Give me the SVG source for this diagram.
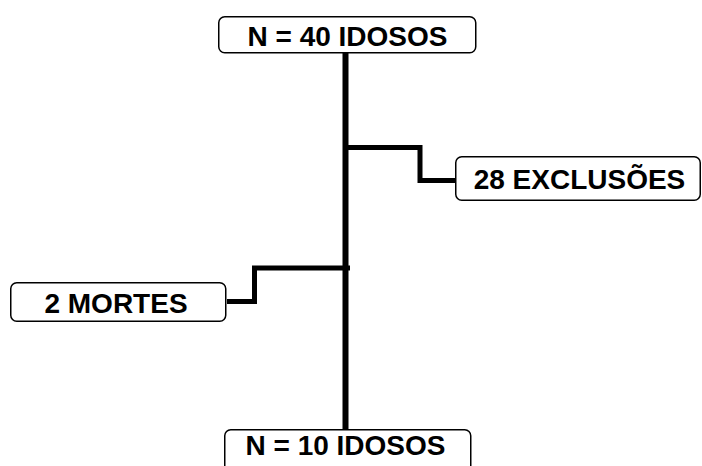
<svg xmlns="http://www.w3.org/2000/svg" width="702" height="466" viewBox="0 0 702 466">
<style>
.box{fill:#fff;stroke:#000;stroke-width:1.5}
.lbl{font-family:"Liberation Sans",Arial,sans-serif;font-weight:bold;font-size:28px;fill:#000}
.conn{fill:none;stroke:#000;stroke-width:5;stroke-linejoin:miter;stroke-linecap:butt}
</style>
<rect width="702" height="466" fill="#fff"/>
<g id="connectors">
<line class="conn" x1="345.5" y1="53" x2="345.5" y2="429" style="stroke-width:6"/>
<polyline class="conn" points="345,147.5 420,147.5 420,180.5 455,180.5"/>
<polyline class="conn" points="350,268 254.5,268 254.5,301.5 227,301.5"/>
</g>
<g id="n40">
<rect class="box" x="218.75" y="16.75" width="257" height="36" rx="6"/>
<text class="lbl" x="347.5" y="46" text-anchor="middle">N = 40 IDOSOS</text>
</g>
<g id="exclusoes">
<rect class="box" x="455.75" y="156.75" width="244.5" height="43.5" rx="6"/>
<text class="lbl" x="579.5" y="189" text-anchor="middle">28 EXCLUSÕES</text>
</g>
<g id="mortes">
<rect class="box" x="10.75" y="282.75" width="215" height="38.5" rx="6"/>
<text class="lbl" x="116" y="313" text-anchor="middle">2 MORTES</text>
</g>
<g id="n10">
<rect class="box" x="224.75" y="429.75" width="246" height="50" rx="6"/>
<text class="lbl" x="345.5" y="455" text-anchor="middle">N = 10 IDOSOS</text>
</g>
</svg>
